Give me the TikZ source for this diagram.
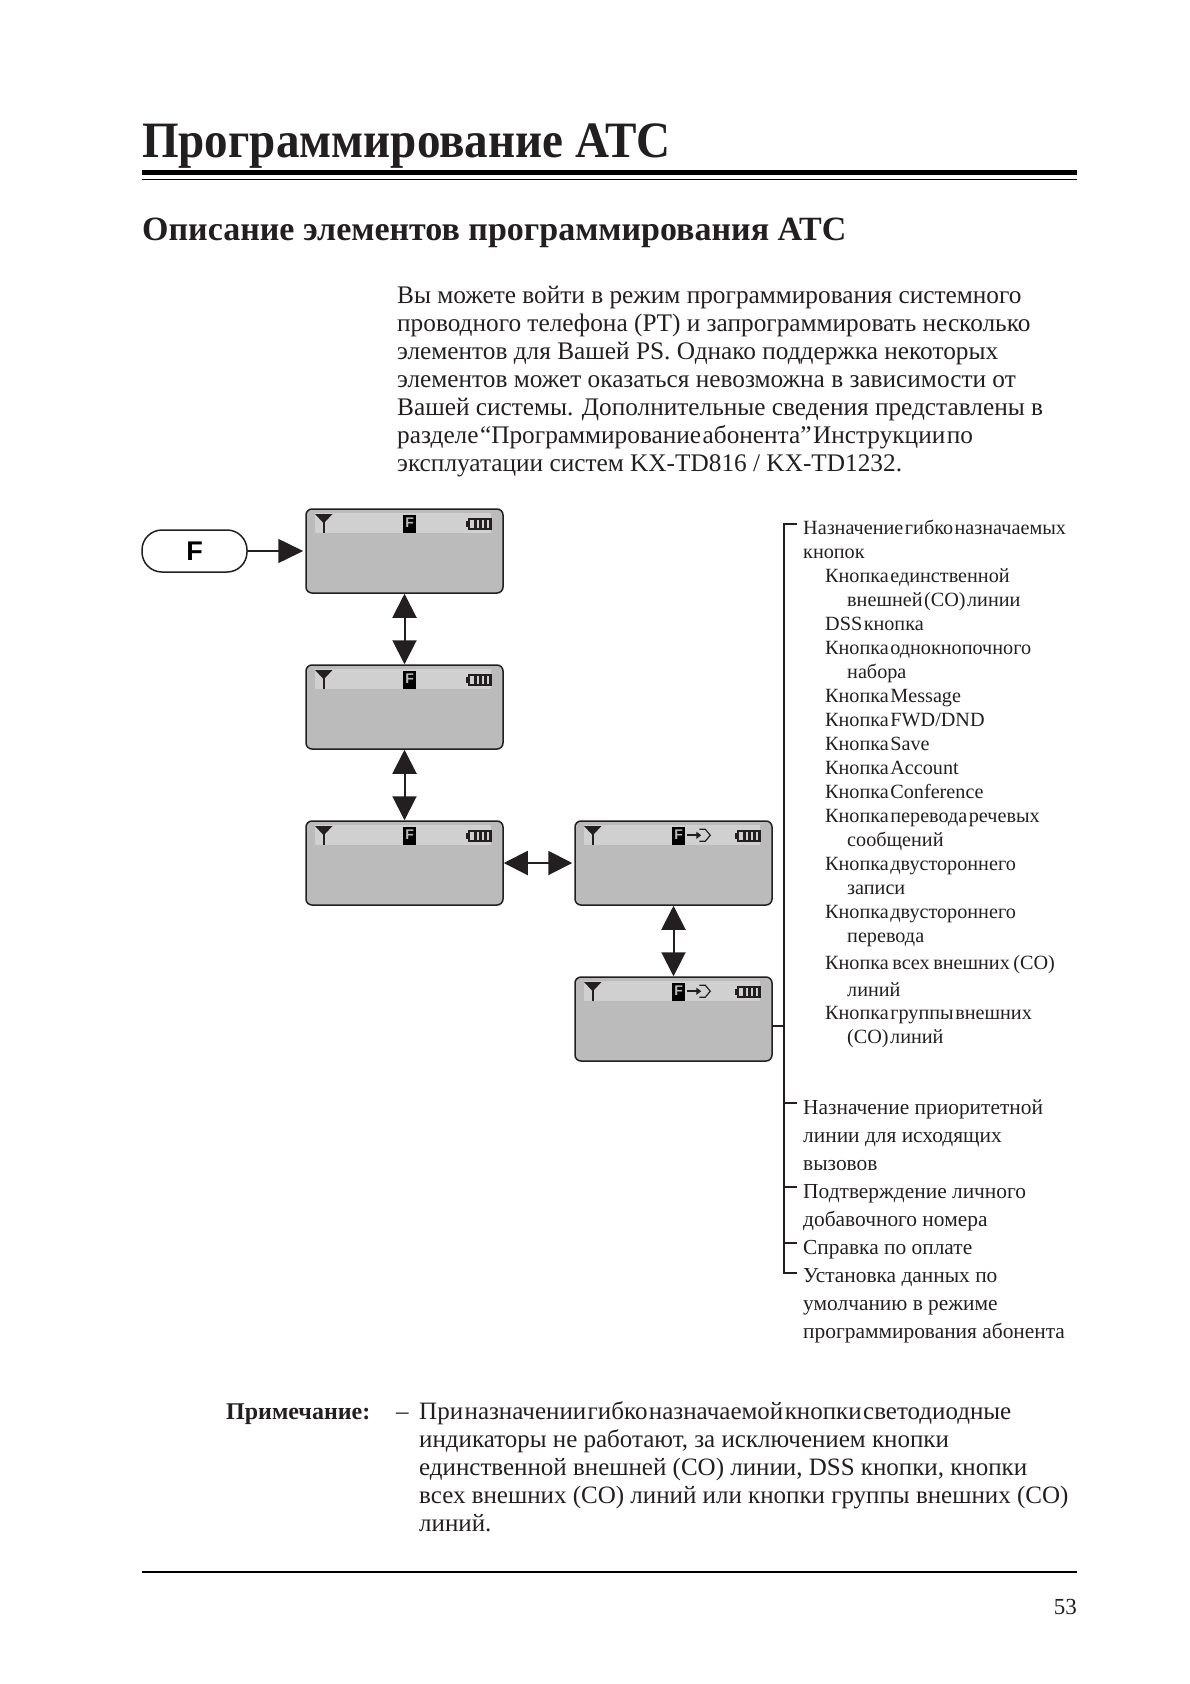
\documentclass[tikz,border=0pt]{standalone}
\usepackage{fontspec}
\setmainfont{Liberation Serif}
\setsansfont{Liberation Sans}
\newfontfamily\narrowserif[FakeStretch=0.923]{Liberation Serif}
\usetikzlibrary{arrows.meta, positioning}

\definecolor{lcdgrey}{HTML}{BBBBBB}
\definecolor{stripgrey}{HTML}{D0D0D0}
\definecolor{inkblack}{HTML}{231F20}
\newcommand{\tightwords}{\spaceskip=1.5pt\relax}
\newcommand{\widerwords}{\spaceskip=3.5pt\relax}

\tikzset{
  lcdbase/.pic={
    \fill[stripgrey] (10,5) rectangle (186,25);
    % antenna
    \draw[inkblack, line width=2.4pt] (18.5,8) -- (18.5,25);
    \draw[inkblack, line width=1.5pt, fill=inkblack] (11.5,6.5) -- (25.5,6.5) -- (18.5,14) -- cycle;
    % F mark
    \fill[black] (98,7) rectangle (111,25);
    \node[text=lcdgrey, font=\sffamily\bfseries\fontsize{14}{14}\selectfont, inner sep=0pt] (-fmark) at (104.5,14.5) {F};
    % battery
    \fill[inkblack] (161,13) rectangle (165,19);
    \draw[inkblack, line width=1.8pt] (164,10.5) rectangle (186,21);
    \foreach \i in {169,174,179} \fill[inkblack] (\i,11) rectangle ++(3.2,10);
    \fill[inkblack] (183.5,10) rectangle (186,21.5);
  },
  lcdlink/.pic={
    \draw[inkblack, line width=1.6pt, -{Triangle[length=5pt,width=7pt]}] (113,15) -- (127,15);
    \draw[inkblack, line width=1.2pt] (125,9) -- (131,9) -- (136,15) -- (131,21) -- (125,21);
  }
}

\begin{document}
\begin{tikzpicture}[
  x=1pt, y=-1pt,
  screen/.style={draw=inkblack, fill=lcdgrey, rounded corners=6pt, line width=1.5pt,
                 minimum width=197pt, minimum height=84pt, inner sep=0pt},
  fkey/.style={draw=inkblack, fill=white, rounded corners=20pt, line width=1.5pt,
               minimum width=105pt, minimum height=42pt, inner sep=0pt,
               font=\sffamily\bfseries\fontsize{27}{27}\selectfont},
  dbl/.style={{Triangle[length=24pt,width=24pt]}-{Triangle[length=24pt,width=24pt]},
              inkblack, line width=2pt},
  arr/.style={-{Triangle[length=25pt,width=24pt]}, inkblack, line width=1.5pt},
  bus/.style={inkblack, line width=2pt},
  txt/.style={anchor=base west, inner sep=0pt, align=left, text=inkblack},
  body/.style={txt, font=\fontsize{25.3}{28}\selectfont},
  notetext/.style={txt, font=\fontsize{25}{28}\selectfont},
  tight/.style={txt, font=\fontsize{20.2}{24}\selectfont\tightwords},
  loose/.style={txt, font=\fontsize{21.4}{28}\selectfont}
]
\useasboundingbox (0,0) rectangle (1190,1684);

% heading
\node[txt, font=\narrowserif\bfseries\fontsize{51}{51}\selectfont] (title) at (142,157) {Программирование АТС};
\fill[black] (142,170) rectangle (1077,175);
\fill[black] (142,178.5) rectangle (1077,180);
\node[txt, font=\bfseries\fontsize{34}{34}\selectfont] (subtitle) at (142,240) {Описание элементов программирования АТС};

\node[body] (intro) at (397,471)
  {Вы можете войти в режим программирования системного\\
   проводного телефона (PT) и запрограммировать несколько\\
   элементов для Вашей PS. Однако поддержка некоторых\\
   элементов может оказаться невозможна в зависимости от\\
   Вашей системы. Дополнительные сведения представлены в\\
   {\tightwords разделе “Программирование абонента” Инструкции по}\\
   эксплуатации систем KX-TD816 / KX-TD1232.};

% screens
\node[fkey] (fbtn) at (194.5,551) {F};
\node[screen] (scr1) at (404.5,551) {};
\node[screen] (scr2) at (404.5,707) {};
\node[screen] (scr3) at (404.5,863) {};
\node[screen] (scr4) at (673.5,863) {};
\node[screen] (scr5) at (673.5,1019) {};
\pic at (scr1.north west) {lcdbase};
\pic at (scr2.north west) {lcdbase};
\pic at (scr3.north west) {lcdbase};
\pic at (scr4.north west) {lcdbase};
\pic at (scr4.north west) {lcdlink};
\pic at (scr5.north west) {lcdbase};
\pic at (scr5.north west) {lcdlink};

\draw[arr, shorten >=2pt] (fbtn) -- (scr1);
\draw[dbl] (scr1) -- (scr2);
\draw[dbl] (scr2) -- (scr3);
\draw[dbl, shorten >=2pt] (scr3) -- (scr4);
\draw[dbl] (scr4) -- (scr5);

% bus
\coordinate (busA) at (784,524);
\coordinate (busB) at (784,1273);
\coordinate (tickA) at (797,524);
\coordinate (tickB) at (797,1103);
\coordinate (tickC) at (797,1187);
\coordinate (tickD) at (797,1243);
\coordinate (tickE) at (797,1273);
\draw[bus] (tickA) -- (busA) -- (busB) -- (tickE);
\draw[bus] (tickB) -- (tickB -| busA);
\draw[bus] (tickC) -- (tickC -| busA);
\draw[bus, line width=1.2pt] (tickD) -- (tickD -| busA);
\draw[bus, line width=1.5pt] (scr5.east |- 0,1026) -- (busA |- 0,1026);

% button list
\node[tight] (flex) at (803,558) {Назначение гибко назначаемых\\кнопок};
\node[tight] (single) at (825,606) {Кнопка единственной\\\hspace*{22pt}внешней (CO) линии};
\node[tight] (dss) at (825,630) {DSS кнопка};
\node[tight] (onetouch) at (825,678) {Кнопка однокнопочного\\\hspace*{22pt}набора};
\node[tight] (msg) at (825,702) {Кнопка Message};
\node[tight] (fwd) at (825,726) {Кнопка FWD/DND};
\node[tight] (save) at (825,750) {Кнопка Save};
\node[tight] (acct) at (825,774) {Кнопка Account};
\node[tight] (conf) at (825,798) {Кнопка Conference};
\node[tight] (voice) at (825,846) {Кнопка перевода речевых\\\hspace*{22pt}сообщений};
\node[tight] (rec) at (825,894) {Кнопка двустороннего\\\hspace*{22pt}записи};
\node[tight] (trans) at (825,942) {Кнопка двустороннего\\\hspace*{22pt}перевода};
\node[tight, font=\fontsize{20.2}{27}\selectfont\widerwords] (allco) at (825,996) {Кнопка всех внешних (CO)\\\hspace*{22pt}линий};
\node[tight] (grpco) at (825,1043) {Кнопка группы внешних\\\hspace*{22pt}(CO) линий};

% lower list
\node[loose] (prio) at (803,1170) {Назначение приоритетной\\линии для исходящих\\вызовов};
\node[loose] (ext) at (803,1226) {Подтверждение личного\\добавочного номера};
\node[loose] (fee) at (803,1254) {Справка по оплате};
\node[loose] (deflt) at (803,1338) {Установка данных по\\умолчанию в режиме\\программирования абонента};

% note
\node[txt, font=\bfseries\fontsize{24}{28}\selectfont] (notehead) at (226,1419) {Примечание:};
\node[notetext] (dash) at (396,1419) {–};
\node[notetext] (note) at (419,1531)
  {{\tightwords При назначении гибко назначаемой кнопки светодиодные}\\
   индикаторы не работают, за исключением кнопки\\
   единственной внешней (CO) линии, DSS кнопки, кнопки\\
   всех внешних (CO) линий или кнопки группы внешних (CO)\\
   линий.};

% foot
\fill[black] (142,1571) rectangle (1077,1573);
\node[txt, anchor=base east, font=\fontsize{23}{28}\selectfont] (pageno) at (1077,1614) {53};
\end{tikzpicture}
\end{document}
